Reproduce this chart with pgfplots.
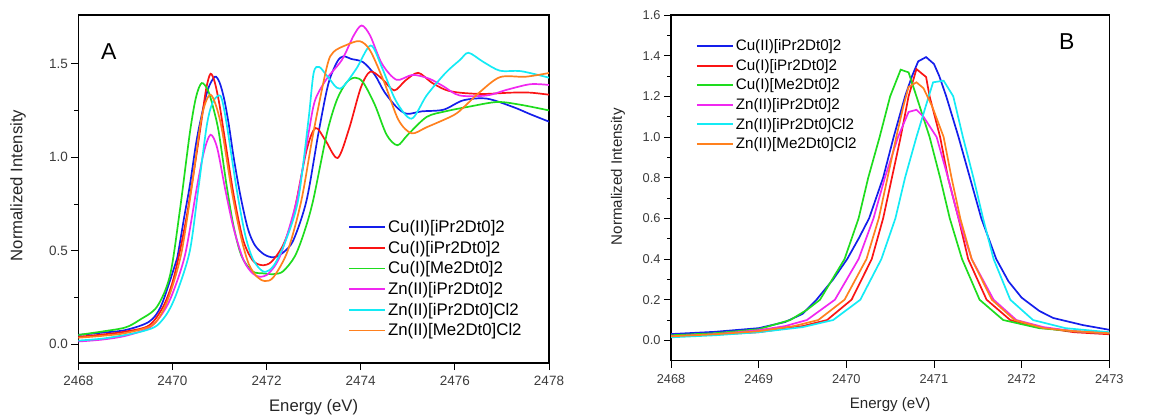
\documentclass[border=0pt]{standalone}
\usepackage{fontspec}
\setmainfont{Liberation Sans}
\usepackage{pgfplots}
\pgfplotsset{compat=1.18}

\definecolor{cBlue}{RGB}{20,30,235}
\definecolor{cRed}{RGB}{250,20,20}
\definecolor{cGreen}{RGB}{30,220,30}
\definecolor{cMag}{RGB}{240,40,240}
\definecolor{cCyan}{RGB}{20,235,245}
\definecolor{cOrange}{RGB}{255,128,30}
\definecolor{tickgray}{RGB}{60,60,60}

\pgfplotsset{
  xas/.style={
    scale only axis,
    axis line style={line width=1.1pt},
    tick style={line width=0.9pt, black},
    tick align=outside,
    xtick pos=bottom, ytick pos=left,
    major tick length=7pt, minor tick length=4pt,
    /pgf/number format/assume math mode=true,
    /pgf/number format/1000 sep={},
    yticklabel style={/pgf/number format/.cd, fixed, fixed zerofill, precision=1},
    xticklabel style={yshift=-3pt},
    ymin=-0.1,
    every axis plot/.append style={line width=1.7pt},
    legend style={draw=none, fill=none},
    legend cell align=left,
    legend image code/.code={\draw[#1] (0pt,0pt) -- (36pt,0pt);},
  }
}

\begin{document}
\begin{tikzpicture}
\path[use as bounding box] (0,0) rectangle (1157pt,418pt);

% panel A
\begin{axis}[xas,
  at={(78.3pt,55pt)}, anchor=south west,
  width=470.7pt, height=348pt,
  xmin=2468, xmax=2478, ymax=1.76,
  xtick={2468,2470,...,2478}, minor x tick num=1,
  ytick={0,0.5,1,1.5}, minor y tick num=1,
  tick label style={font=\fontsize{13.5}{15}\selectfont, text=tickgray},
  xlabel={Energy (eV)}, ylabel={Normalized Intensity},
  label style={font=\fontsize{16.7}{20}\selectfont, text=black!85},
  x label style={at={(axis description cs:0.5,0)}, anchor=center, yshift=-43.7pt},
  y label style={at={(axis description cs:-0.128,0.51)}, anchor=center},
  legend style={at={(rel axis cs:0.567,0.422)}, anchor=north west,
    font=\fontsize{16.8}{20.6}\selectfont, row sep=3pt},
]
\addplot[cBlue, smooth, tension=0.5] coordinates {
(2468,0.05) (2468.5,0.062) (2469,0.076) (2469.5,0.12) (2469.75,0.2) (2470,0.38)
(2470.1,0.46) (2470.25,0.68) (2470.37,0.85) (2470.5,1.07) (2470.6,1.2)
(2470.75,1.36) (2470.9,1.43) (2471,1.40) (2471.1,1.31) (2471.2,1.17)
(2471.3,1.0) (2471.44,0.80) (2471.6,0.62) (2471.75,0.53) (2471.95,0.48)
(2472.15,0.465) (2472.35,0.49) (2472.57,0.557) (2472.85,0.77) (2473.1,1.126)
(2473.31,1.39) (2473.5,1.51) (2473.63,1.539) (2473.8,1.525) (2474.05,1.508)
(2474.3,1.44) (2474.5,1.35) (2474.76,1.268) (2474.98,1.232) (2475.3,1.245)
(2475.76,1.254) (2476.18,1.304) (2476.68,1.313) (2477.24,1.268) (2477.6,1.23)
(2478,1.19)};
\addlegendentry{Cu(II)[iPr2Dt0]2}
\addplot[cRed, smooth, tension=0.5] coordinates {
(2468,0.04) (2468.5,0.052) (2469,0.068) (2469.5,0.1) (2469.8,0.2) (2470,0.33)
(2470.16,0.5) (2470.3,0.68) (2470.41,0.85) (2470.52,1.03) (2470.62,1.2)
(2470.72,1.37) (2470.81,1.446) (2470.9,1.40) (2471,1.28) (2471.1,1.12)
(2471.3,0.80) (2471.5,0.56) (2471.7,0.45) (2471.9,0.423) (2472.1,0.44)
(2472.35,0.53) (2472.57,0.69) (2472.85,1.037) (2473.04,1.156) (2473.25,1.09)
(2473.51,0.996) (2473.75,1.15) (2474,1.37) (2474.2,1.457) (2474.45,1.42)
(2474.71,1.357) (2474.95,1.41) (2475.22,1.451) (2475.5,1.40) (2475.8,1.36)
(2476.1,1.345) (2476.6,1.338) (2477.2,1.345) (2477.6,1.345) (2478,1.334)};
\addlegendentry{Cu(I)[iPr2Dt0]2}
\addplot[cGreen, smooth, tension=0.5] coordinates {
(2468,0.05) (2468.5,0.068) (2469,0.09) (2469.3,0.13) (2469.67,0.2) (2469.95,0.37)
(2470.16,0.72) (2470.37,1.13) (2470.5,1.32) (2470.62,1.396) (2470.75,1.36)
(2470.85,1.28) (2470.98,1.14) (2471.15,0.85) (2471.3,0.63) (2471.47,0.47)
(2471.7,0.39) (2471.93,0.379) (2472.15,0.375) (2472.35,0.39) (2472.6,0.47)
(2472.8,0.6) (2472.99,0.77) (2473.28,1.126) (2473.49,1.304) (2473.7,1.4)
(2473.88,1.425) (2474.05,1.40) (2474.3,1.28) (2474.55,1.12) (2474.78,1.064)
(2475,1.12) (2475.4,1.215) (2475.8,1.245) (2476.3,1.27) (2476.9,1.295)
(2477.4,1.28) (2478,1.25)};
\addlegendentry{Cu(I)[Me2Dt0]2}
\addplot[cMag, smooth, tension=0.5] coordinates {
(2468,0.015) (2468.5,0.025) (2469,0.045) (2469.52,0.09) (2469.8,0.17) (2470,0.27)
(2470.27,0.48) (2470.52,0.84) (2470.67,1.03) (2470.81,1.12) (2470.95,1.05)
(2471.12,0.83) (2471.3,0.62) (2471.51,0.45) (2471.7,0.38) (2471.86,0.361)
(2472.05,0.38) (2472.3,0.48) (2472.64,0.77) (2472.89,1.126) (2473.03,1.304)
(2473.28,1.42) (2473.6,1.52) (2473.85,1.65) (2474.02,1.704) (2474.2,1.65)
(2474.45,1.5) (2474.76,1.414) (2475.1,1.44) (2475.45,1.42) (2475.75,1.38)
(2476.1,1.33) (2476.68,1.33) (2477.1,1.36) (2477.6,1.39) (2478,1.386)};
\addlegendentry{Zn(II)[iPr2Dt0]2}
\addplot[cCyan, smooth, tension=0.5] coordinates {
(2468,0.02) (2468.5,0.03) (2469,0.05) (2469.4,0.072) (2469.67,0.1) (2469.9,0.17)
(2470.1,0.28) (2470.37,0.5) (2470.55,0.83) (2470.73,1.17) (2470.85,1.29)
(2470.98,1.33) (2471.05,1.31) (2471.15,1.18) (2471.37,0.82) (2471.55,0.58)
(2471.72,0.45) (2471.94,0.388) (2472.15,0.42) (2472.4,0.55) (2472.67,0.77)
(2472.89,1.2) (2473.0,1.45) (2473.12,1.482) (2473.3,1.43) (2473.56,1.366)
(2473.9,1.47) (2474.21,1.597) (2474.45,1.48) (2474.75,1.3) (2475.08,1.206)
(2475.4,1.33) (2475.8,1.45) (2476.11,1.52) (2476.29,1.558) (2476.6,1.51)
(2476.96,1.462) (2477.4,1.46) (2478,1.425)};
\addlegendentry{Zn(II)[iPr2Dt0]Cl2}
\addplot[cOrange, smooth, tension=0.5] coordinates {
(2468,0.035) (2468.5,0.045) (2469,0.06) (2469.56,0.1) (2469.8,0.18) (2470,0.31)
(2470.2,0.5) (2470.41,0.84) (2470.59,1.17) (2470.7,1.29) (2470.81,1.334)
(2470.92,1.28) (2471.05,1.15) (2471.26,0.82) (2471.45,0.58) (2471.62,0.43)
(2471.8,0.36) (2471.97,0.338) (2472.15,0.36) (2472.45,0.5) (2472.74,0.77)
(2472.99,1.126) (2473.28,1.482) (2473.42,1.562) (2473.7,1.6) (2473.98,1.62)
(2474.2,1.57) (2474.5,1.4) (2474.8,1.2) (2475.08,1.128) (2475.4,1.16)
(2475.97,1.224) (2476.2,1.27) (2476.53,1.348) (2476.96,1.428) (2477.5,1.43)
(2478,1.45)};
\addlegendentry{Zn(II)[Me2Dt0]Cl2}
\node[font=\fontsize{23}{26}\selectfont] at (rel axis cs:0.065,0.894) {A};
\end{axis}

% panel B
\begin{axis}[xas,
  at={(671pt,57.3pt)}, anchor=south west,
  width=438.3pt, height=345.7pt,
  xmin=2468, xmax=2473, ymax=1.6,
  xtick={2468,...,2473}, minor x tick num=4,
  ytick={0,0.2,...,1.6}, minor y tick num=1,
  tick label style={font=\fontsize{12.8}{14}\selectfont, text=tickgray},
  xlabel={Energy (eV)}, ylabel={Normalized Intensity},
  label style={font=\fontsize{15.1}{18}\selectfont, text=black!85},
  x label style={at={(axis description cs:0.5,0)}, anchor=center, yshift=-44.3pt},
  y label style={at={(axis description cs:-0.121,0.532)}, anchor=center},
  legend style={at={(rel axis cs:0.05,0.940)}, anchor=north west,
    font=\fontsize{15.2}{20.2}\selectfont, row sep=3pt},
]
\addplot[cBlue] coordinates {
(2468,0.031) (2468.5,0.042) (2469,0.06) (2469.3,0.09) (2469.5,0.13) (2469.66,0.2)
(2469.85,0.3) (2470.01,0.4) (2470.14,0.5) (2470.26,0.6) (2470.34,0.7) (2470.42,0.8)
(2470.54,1.0) (2470.67,1.2) (2470.75,1.3) (2470.82,1.372) (2470.91,1.393)
(2471,1.359) (2471.06,1.3) (2471.14,1.2) (2471.28,1.0) (2471.41,0.8) (2471.54,0.6)
(2471.71,0.4) (2471.85,0.29) (2472,0.21) (2472.2,0.145) (2472.36,0.11)
(2472.7,0.075) (2473,0.052)};
\addlegendentry{Cu(II)[iPr2Dt0]2}
\addplot[cRed] coordinates {
(2468,0.02) (2468.5,0.028) (2469,0.04) (2469.5,0.07) (2469.78,0.1) (2470.06,0.2)
(2470.29,0.4) (2470.42,0.6) (2470.52,0.8) (2470.62,1.0) (2470.71,1.2)
(2470.8,1.334) (2470.91,1.295) (2470.95,1.2) (2471.07,1.0) (2471.16,0.8)
(2471.28,0.6) (2471.39,0.4) (2471.6,0.2) (2471.87,0.1) (2472.2,0.065)
(2472.6,0.04) (2473,0.03)};
\addlegendentry{Cu(I)[iPr2Dt0]2}
\addplot[cGreen] coordinates {
(2468,0.025) (2468.5,0.035) (2469,0.055) (2469.36,0.1) (2469.55,0.15) (2469.7,0.2)
(2469.98,0.4) (2470.14,0.6) (2470.25,0.8) (2470.38,1.0) (2470.5,1.2)
(2470.62,1.331) (2470.71,1.318) (2470.8,1.2) (2470.95,1.0) (2471.07,0.8)
(2471.18,0.6) (2471.32,0.4) (2471.52,0.2) (2471.79,0.1) (2472.2,0.06)
(2472.6,0.045) (2473,0.035)};
\addlegendentry{Cu(I)[Me2Dt0]2}
\addplot[cMag] coordinates {
(2468,0.02) (2468.5,0.03) (2469,0.05) (2469.3,0.07) (2469.55,0.1) (2469.87,0.2)
(2470.14,0.4) (2470.31,0.6) (2470.44,0.8) (2470.59,1.0) (2470.71,1.123)
(2470.8,1.134) (2470.88,1.1) (2471.03,1.0) (2471.16,0.8) (2471.28,0.6)
(2471.43,0.4) (2471.68,0.2) (2471.94,0.1) (2472.25,0.065) (2472.6,0.045)
(2473,0.035)};
\addlegendentry{Zn(II)[iPr2Dt0]2}
\addplot[cCyan] coordinates {
(2468,0.015) (2468.5,0.025) (2469,0.04) (2469.5,0.065) (2469.85,0.1) (2470.16,0.2)
(2470.4,0.4) (2470.56,0.6) (2470.67,0.8) (2470.8,1.0) (2470.94,1.2)
(2470.99,1.269) (2471.11,1.277) (2471.22,1.2) (2471.33,1.0) (2471.45,0.8)
(2471.56,0.6) (2471.68,0.4) (2471.87,0.2) (2472.13,0.1) (2472.5,0.06)
(2473,0.04)};
\addlegendentry{Zn(II)[iPr2Dt0]Cl2}
\addplot[cOrange] coordinates {
(2468,0.02) (2468.5,0.03) (2469,0.045) (2469.4,0.07) (2469.68,0.1) (2469.98,0.2)
(2470.23,0.4) (2470.37,0.6) (2470.47,0.8) (2470.57,1.0) (2470.65,1.15)
(2470.71,1.246) (2470.8,1.269) (2470.88,1.24) (2470.98,1.15) (2471.11,1.0)
(2471.2,0.8) (2471.3,0.6) (2471.43,0.4) (2471.66,0.2) (2471.92,0.1)
(2472.25,0.06) (2472.6,0.045) (2473,0.035)};
\addlegendentry{Zn(II)[Me2Dt0]Cl2}
\node[font=\fontsize{23}{26}\selectfont] at (rel axis cs:0.903,0.922) {B};
\end{axis}
\end{tikzpicture}
\end{document}
